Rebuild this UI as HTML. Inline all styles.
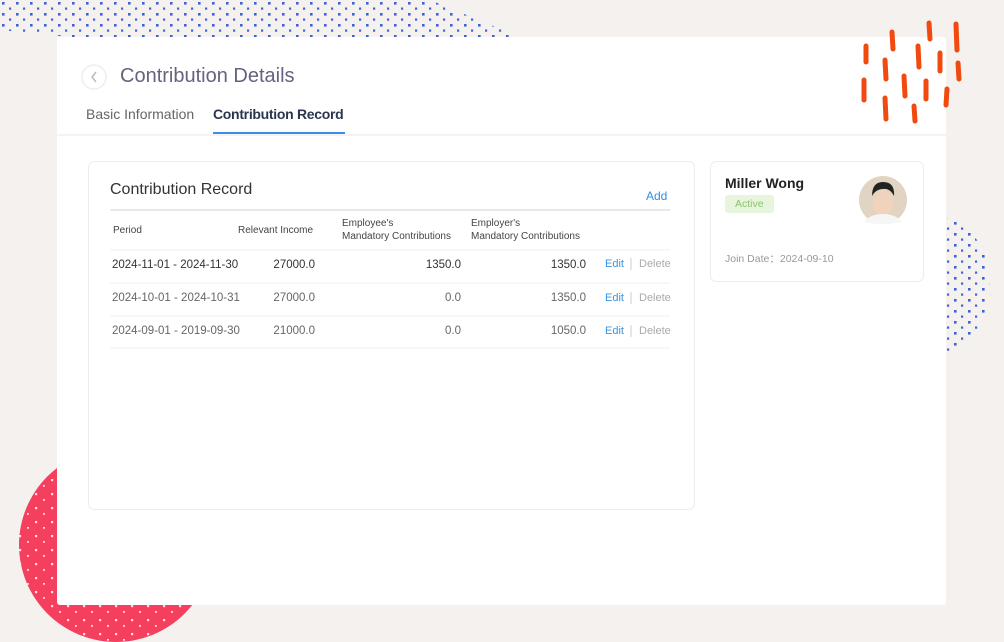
<!DOCTYPE html>
<html><head><meta charset="utf-8"><style>
html,body{margin:0;padding:0;width:1004px;height:642px;overflow:hidden;background:#f4f1ee;font-family:"Liberation Sans",sans-serif;}
.abs{position:absolute;}
.panel{left:57px;top:37px;width:889px;height:568px;background:#fff;border-radius:3px;}
.t{position:absolute;white-space:nowrap;}
.layer{position:absolute;left:0;top:0;width:1004px;height:642px;}
</style></head><body>
<svg class="abs" style="left:0;top:0" width="1004" height="642">
<defs>
<pattern id="dots" width="14" height="11" patternUnits="userSpaceOnUse"><rect x="2" y="2" width="2.6" height="2.6" fill="#3d63d6"/><rect x="9" y="7.5" width="2.2" height="2.2" fill="#3d63d6"/></pattern>
<pattern id="pd" width="16" height="14" patternUnits="userSpaceOnUse"><rect width="16" height="14" fill="#f43f5e"/><rect x="3" y="3" width="2.2" height="2.2" fill="#fde0e5"/><rect x="11" y="9" width="1.8" height="1.8" fill="#fde0e5"/></pattern>
</defs>
<polygon points="0,0 430,0 520,37 300,40 120,42 0,30" fill="url(#dots)"/>
<polygon points="946,218 965,225 985,250 990,290 980,330 946,356" fill="url(#dots)"/>
<circle cx="116" cy="545" r="97" fill="url(#pd)"/>
</svg>
<div class="abs panel"></div>
<svg class="abs" style="left:0;top:0" width="1004" height="642">
<g stroke="#f04a10" stroke-width="5" stroke-linecap="round">
<line x1="866" y1="46" x2="866" y2="62"/><line x1="892" y1="32" x2="893" y2="49"/><line x1="929" y1="23" x2="930" y2="39"/><line x1="956" y1="24" x2="957" y2="50"/>
<line x1="885" y1="60" x2="886" y2="79"/><line x1="918" y1="46" x2="919" y2="67"/><line x1="940" y1="53" x2="940" y2="71"/><line x1="958" y1="63" x2="959" y2="79"/>
<line x1="864" y1="80" x2="864" y2="100"/><line x1="904" y1="76" x2="905" y2="96"/><line x1="926" y1="81" x2="926" y2="99"/><line x1="947" y1="89" x2="946" y2="105"/>
<line x1="885" y1="98" x2="886" y2="119"/><line x1="914" y1="106" x2="915" y2="121"/>
</g>
<circle cx="94" cy="77" r="12" fill="#fff" stroke="#eee" stroke-width="1.5"/>
<polyline points="96,72 92,77 96,82" fill="none" stroke="#bbb" stroke-width="1.5"/>
<line x1="57" y1="135" x2="946" y2="135" stroke="#e8e8e8"/>
<rect x="213" y="132" width="132" height="2" fill="#3a8ee6"/>
<rect x="88.5" y="161.5" width="606" height="348" rx="6" fill="#fff" stroke="#ececec"/>
<rect x="710.5" y="161.5" width="213" height="120" rx="6" fill="#fff" stroke="#ececec"/>
<line x1="110" y1="210" x2="670" y2="210" stroke="#e0e0e0" stroke-width="1.5"/>
<g stroke="#efefef"><line x1="110" y1="250" x2="670" y2="250"/><line x1="110" y1="283" x2="670" y2="283"/><line x1="110" y1="316" x2="670" y2="316"/><line x1="110" y1="348" x2="670" y2="348"/></g>
<g stroke="#ccc"><line x1="631" y1="258" x2="631" y2="270"/><line x1="631" y1="292" x2="631" y2="304"/><line x1="631" y1="325" x2="631" y2="337"/></g>
<circle cx="883" cy="200" r="24" fill="#e2d4c2"/>
<ellipse cx="883" cy="203" rx="10" ry="13" fill="#f0d2bd"/>
<path d="M872,196 Q872,182 883,182 Q895,182 894,196 Q890,188 883,189 Q876,189 872,196Z" fill="#222"/>
<path d="M864,222 Q870,214 883,214 Q896,214 902,222 Q893,224 883,224 Q873,224 864,222Z" fill="#f6f6f6"/>
<rect x="725" y="195" width="49" height="18" rx="3" fill="#e7f5dc"/>
</svg>
<div class="t" style="left:120px;top:65px;font-size:20px;color:#65637f;">Contribution Details</div>
<div class="t" style="left:86px;top:106px;font-size:14px;color:#666;">Basic Information</div>
<div class="t" style="left:213px;top:106px;font-size:14px;color:#2c3550;font-weight:bold;letter-spacing:-0.3px;">Contribution Record</div>
<div class="t" style="left:110px;top:181px;font-size:16px;color:#333;">Contribution Record</div>
<div class="t" style="left:646px;top:189px;font-size:12px;color:#2f8fe0;">Add</div>
<div class="layer" style="font-size:10px;color:#444;">
<div class="t" style="left:113px;top:225px;">Period</div>
<div class="t" style="left:238px;top:225px;">Relevant Income</div>
<div class="t" style="left:342px;top:217px;line-height:13px;">Employee's<br>Mandatory Contributions</div>
<div class="t" style="left:471px;top:217px;line-height:13px;">Employer's<br>Mandatory Contributions</div>
</div>
<div class="layer" style="font-size:11.5px;">
<div class="t" style="left:112px;top:259px;color:#333;">2024-11-01 - 2024-11-30</div>
<div class="t" style="left:112px;top:292px;color:#666;">2024-10-01 - 2024-10-31</div>
<div class="t" style="left:112px;top:325px;color:#666;">2024-09-01 - 2019-09-30</div>
<div class="t" style="right:689px;top:259px;color:#333;">27000.0</div>
<div class="t" style="right:689px;top:292px;color:#666;">27000.0</div>
<div class="t" style="right:689px;top:325px;color:#666;">21000.0</div>
<div class="t" style="right:543px;top:259px;color:#333;">1350.0</div>
<div class="t" style="right:543px;top:292px;color:#666;">0.0</div>
<div class="t" style="right:543px;top:325px;color:#666;">0.0</div>
<div class="t" style="right:418px;top:259px;color:#333;">1350.0</div>
<div class="t" style="right:418px;top:292px;color:#666;">1350.0</div>
<div class="t" style="right:418px;top:325px;color:#666;">1050.0</div>
<div class="t" style="left:605px;top:258px;color:#3a94e0;font-size:11px;">Edit</div>
<div class="t" style="left:605px;top:292px;color:#3a94e0;font-size:11px;">Edit</div>
<div class="t" style="left:605px;top:325px;color:#3a94e0;font-size:11px;">Edit</div>
<div class="t" style="left:639px;top:258px;color:#aaa;font-size:11px;">Delete</div>
<div class="t" style="left:639px;top:292px;color:#aaa;font-size:11px;">Delete</div>
<div class="t" style="left:639px;top:325px;color:#aaa;font-size:11px;">Delete</div>
</div>
<div class="t" style="left:725px;top:175px;font-size:14px;font-weight:bold;color:#222;">Miller Wong</div>
<div class="t" style="left:735px;top:198px;font-size:10.5px;color:#8cc46b;">Active</div>
<div class="t" style="left:725px;top:251px;font-size:10.5px;color:#999;">Join Date：2024-09-10</div>
</body></html>
